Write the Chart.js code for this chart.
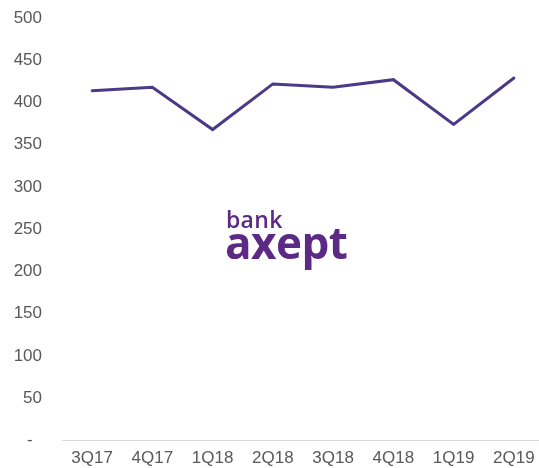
<!DOCTYPE html>
<html>
<head>
<meta charset="utf-8">
<script src="https://cdn.jsdelivr.net/npm/chart.js"></script>
<style>
  html, body { margin: 0; padding: 0; background: #fff; overflow: hidden; }
  .wrap { position: relative; width: 544px; height: 468px; }
  .logo { position: absolute; left: 0; top: 0; color: #5c2a84; font-family: "Open Sans", sans-serif; line-height: 1; }
  .logo .bank { position: absolute; left: 226px; top: 208px; font-size: 23px; font-weight: 600; letter-spacing: 0.3px; }
  .logo .axept { position: absolute; left: 225px; top: 220px; font-size: 44px; font-weight: 700; letter-spacing: -0.5px; }
</style>
</head>
<body>
<div class="wrap">
  <canvas id="chart" width="544" height="468"></canvas>
  <div class="logo"><span class="bank">bank</span><span class="axept">axept</span></div>
</div>
<script>
// Kvartaler og verdier
const kvartaler = ['3Q17', '4Q17', '1Q18', '2Q18', '3Q18', '4Q18', '1Q19', '2Q19'];
const verdier = [414, 418, 368, 422, 418, 427, 374, 429];
const yTicks = [0, 50, 100, 150, 200, 250, 300, 350, 400, 450, 500];

const ctx = document.getElementById('chart').getContext('2d');
new Chart(ctx, {
  type: 'line',
  data: {
    labels: kvartaler,
    datasets: [{
      data: verdier,
      borderColor: '#4a3a87',
      borderWidth: 3,
      pointRadius: 0,
      tension: 0,
      borderCapStyle: 'round',
      borderJoinStyle: 'miter'
    }]
  },
  options: {
    responsive: false,
    animation: false,
    layout: { padding: { top: 18, bottom: 0, left: 0, right: 0 } },
    plugins: { legend: { display: false }, tooltip: { enabled: false } },
    scales: {
      x: {
        offset: true,
        grid: { display: false, drawTicks: false },
        border: { display: true, color: '#d9d9d9', width: 1 },
        ticks: {
          color: '#595959',
          font: { family: 'Liberation Sans, Arial, sans-serif', size: 17 },
          padding: 8,
          maxRotation: 0,
          autoSkip: false
        },
        afterFit: s => { s.height = 27.5; }
      },
      y: {
        min: 0,
        max: 500,
        afterBuildTicks: s => { s.ticks = yTicks.map(v => ({ value: v })); },
        // usynlige tick-streker gir avstanden mellom tall og plott
        grid: { display: true, drawOnChartArea: false, drawTicks: true, tickLength: 20, color: 'rgba(0,0,0,0)', tickColor: 'rgba(0,0,0,0)' },
        border: { display: false },
        ticks: {
          color: '#595959',
          font: { family: 'Liberation Sans, Arial, sans-serif', size: 17 },
          padding: 0,
          callback: v => v === 0 ? '-  ' : v
        },
        afterFit: s => { s.width = 62; }
      }
    }
  }
});
</script>
</body>
</html>
